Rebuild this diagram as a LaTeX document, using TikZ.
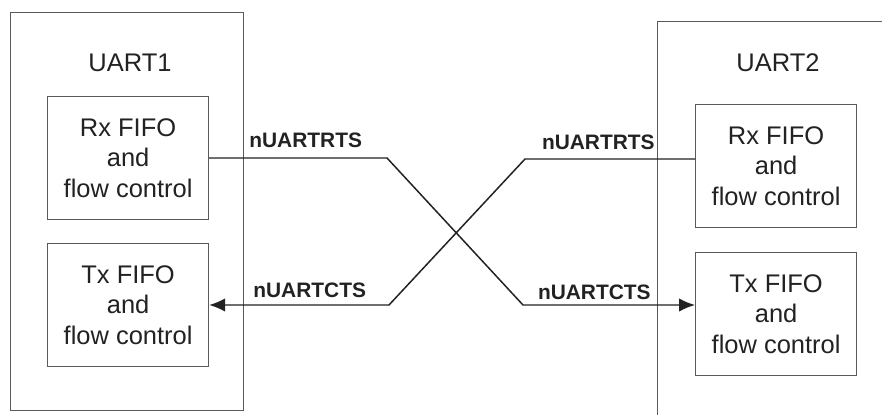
\documentclass[tikz,border=0pt]{standalone}
\usepackage{fontspec}
\setmainfont{Liberation Sans}
\usetikzlibrary{arrows.meta}
\definecolor{boxgray}{HTML}{5A5A5A}
\definecolor{inkdark}{HTML}{222222}
\tikzset{
  outerbox/.style={draw=boxgray, line width=0.6pt, inner sep=0pt},
  fifobox/.style={draw=boxgray, line width=0.7pt, inner sep=0pt, minimum width=3.22cm, minimum height=2.46cm,
    align=center, text=inkdark, font=\fontsize{14.5pt}{17.3pt}\selectfont},
  uartlabel/.style={text=inkdark, inner sep=0pt, font=\fontsize{14.5pt}{17.3pt}\selectfont},
  siglabel/.style={text=inkdark, inner sep=0pt, font=\bfseries\fontsize{11.9pt}{14pt}\selectfont},
  wire/.style={draw=inkdark, line width=0.85pt},
  arrowwire/.style={wire, -{Latex[length=0.32cm, width=0.27cm]}}
}
\begin{document}
\begin{tikzpicture}[x=0.02cm, y=-0.02cm]
\useasboundingbox (0,0) rectangle (882,415);
\clip (0,0) rectangle (882,415);
% outer boxes
\node[outerbox, minimum width=4.66cm, minimum height=7.96cm, anchor=north west] (uart1) at (10,12) {};
\node[outerbox, minimum width=5.0cm, minimum height=8.4cm, anchor=north west] (uart2) at (657,21) {};
\node[uartlabel] (u1lab) at (130,63) {UART1};
\node[uartlabel] (u2lab) at (778,63) {UART2};
% inner boxes
\node[fifobox, anchor=north west] (rx1) at (47,96) {Rx FIFO\\and\\flow control};
\node[fifobox, anchor=north west] (tx1) at (47,243) {Tx FIFO\\and\\flow control};
\node[fifobox, anchor=north west] (rx2) at (695,104) {Rx FIFO\\and\\flow control};
\node[fifobox, anchor=north west] (tx2) at (695,252) {Tx FIFO\\and\\flow control};
% bends
\coordinate (a1) at (387,158);
\coordinate (a2) at (523,305);
\coordinate (b1) at (525,159);
\coordinate (b2) at (389,305);
% wires
\draw[arrowwire] (rx1.east |- a1) -- (a1) -- (a2) -- (a2 -| tx2.west);
\draw[arrowwire] (rx2.west |- b1) -- (b1) -- (b2) -- (b2 -| tx1.east);
% signal labels
\node[siglabel, anchor=base west] (l1) at (249,148) {nUARTRTS};
\node[siglabel, anchor=base east] (l2) at (655,150) {nUARTRTS};
\node[siglabel, anchor=base west] (l3) at (253,297) {nUARTCTS};
\node[siglabel, anchor=base east] (l4) at (651,299) {nUARTCTS};
\end{tikzpicture}
\end{document}
